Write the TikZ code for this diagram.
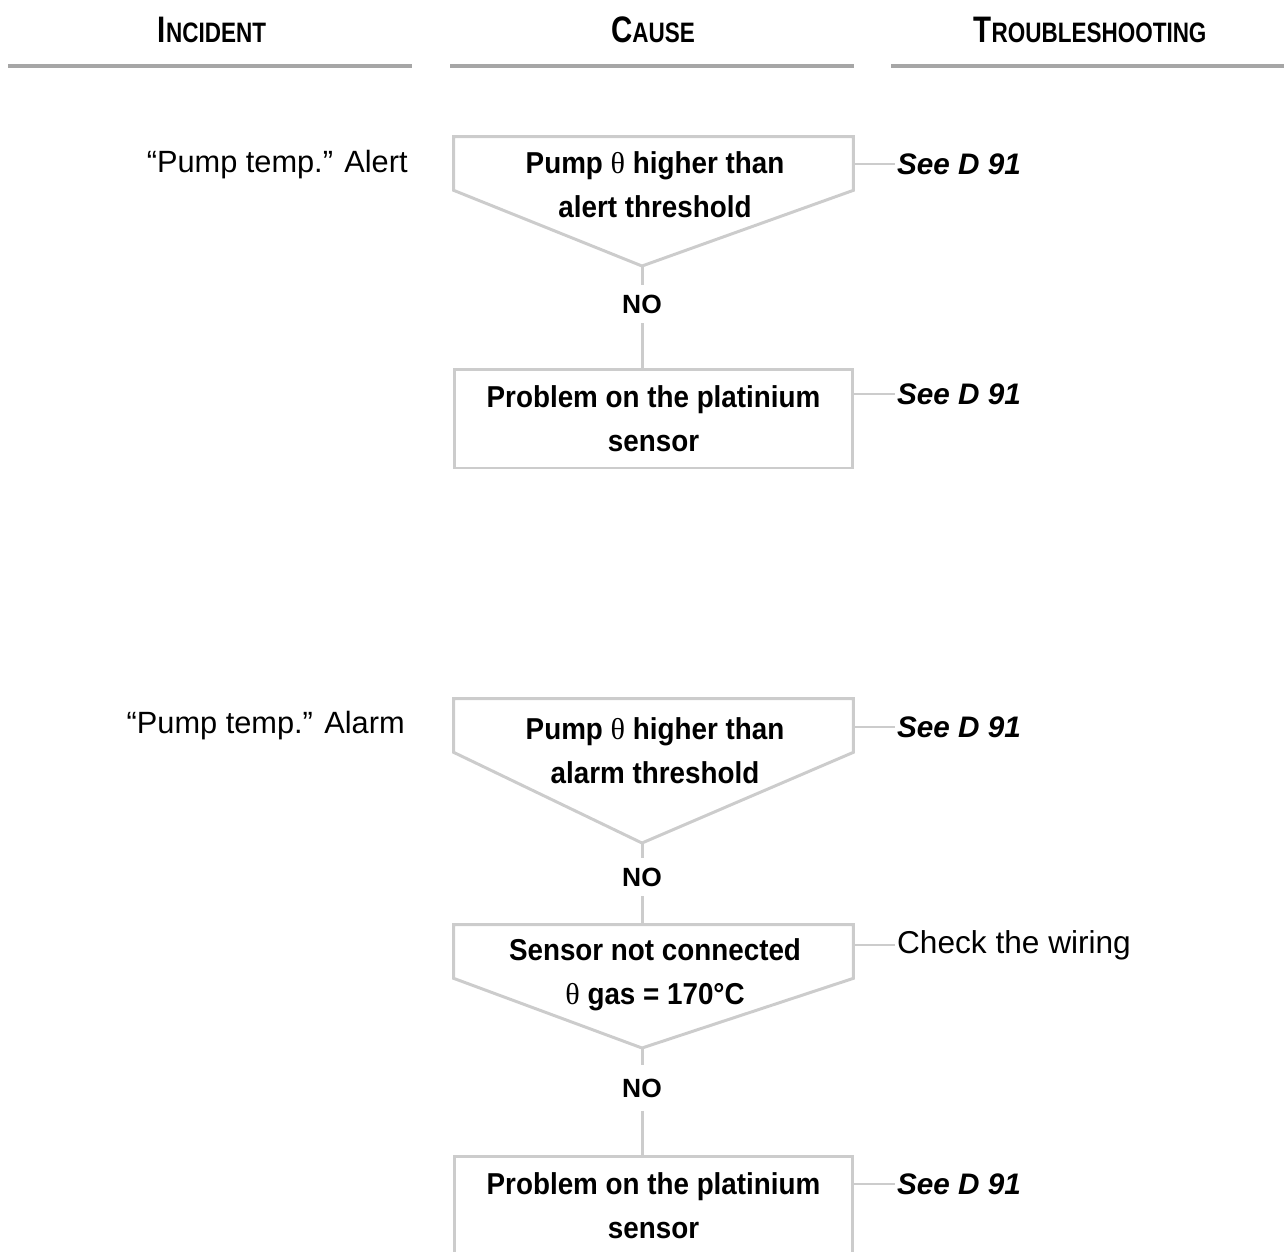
\documentclass[tikz,border=0pt]{standalone}
\usepackage{fontspec}
\setmainfont{Liberation Sans}
\newfontfamily\boxfont[FakeStretch=0.92]{Liberation Sans}
\newfontfamily\headfont[FakeStretch=0.8]{Liberation Sans}
\newfontfamily\thetafont{Liberation Serif}
\usetikzlibrary{positioning}
\definecolor{framegray}{HTML}{CCCCCC}
\definecolor{rulegray}{HTML}{A6A6A6}
\newcommand{\thx}{{\thetafont\mdseries θ}}
\newcommand{\hcap}[2]{{\fontsize{21}{21}\selectfont #1}{\fontsize{16}{16}\selectfont #2}}

\begin{document}
\begin{tikzpicture}[x=0.02cm, y=-0.02cm,
  head/.style={font=\headfont\bfseries, anchor=base, inner sep=0},
  hrule/.style={draw=rulegray, line width=2.2pt},
  cline/.style={draw=framegray, line width=1.7pt},
  link/.style={draw=framegray, line width=1.1pt},
  incid/.style={font=\fontsize{17.5}{21}\selectfont, anchor=base east, inner sep=0},
  asktop/.style={minimum width=7.98cm, minimum height=1.06cm, inner sep=0},
  cause/.style={font=\boxfont\bfseries\fontsize{17.2}{25}\selectfont, align=center, inner sep=0},
  asktext/.style={cause, anchor=north},
  pbox/.style={cline, cause, minimum width=7.98cm, minimum height=1.98cm},
  nolab/.style={font=\bfseries\fontsize{15}{15}\selectfont, minimum height=0.76cm, inner sep=0},
  seetxt/.style={font=\bfseries\itshape\fontsize{16.9}{20}\selectfont, anchor=base west, inner sep=1pt},
  fixtxt/.style={font=\fontsize{18}{21}\selectfont, anchor=base west, inner sep=1pt}]
  \useasboundingbox (0,0) rectangle (1284,1251);
  \clip (0,0) rectangle (1284,1251);

  % column heads
  \node[head] (hinc) at (212,42) {\hcap{I}{NCIDENT}};
  \node[head] (hcau) at (653,42) {\hcap{C}{AUSE}};
  \node[head] (htro) at (1090,42) {\hcap{T}{ROUBLESHOOTING}};
  \draw[hrule] (8,66) -- (412,66);
  \draw[hrule] (450,66) -- (854,66);
  \draw[hrule] (891,66) -- (1284,66);

  % alert
  \node[incid] (inc1) at (408,172) {“Pump temp.” Alert};
  \node[asktop] (q1) at (653.5,163.5) {};
  \coordinate (q1tip) at (642,266);
  \draw[cline] (q1.south west) |- (q1.north east) -- (q1.south east) -- (q1tip) -- cycle;
  \node[asktext] (q1txt) at (655,151) {Pump \thx{} higher than\\alert threshold};
  \node[nolab] (no1) at (642,304) {NO};
  \node[pbox] (p1) at (653.5,418.5) {Problem on the platinium\\sensor};
  \draw[cline] (q1tip) -- (no1);
  \draw[cline] (no1) -- (no1 |- p1.north);
  \node[seetxt] (s1) at (895,174) {See D 91};
  \node[seetxt] (s2) at (895,404) {See D 91};
  \draw[link] (s1.west -| q1.east) -- (s1.west);
  \draw[link] (s2.west -| p1.east) -- (s2.west);

  % alarm
  \node[incid] (inc2) at (405,733) {“Pump temp.” Alarm};
  \node[asktop] (q3) at (653.5,725.5) {};
  \coordinate (q3tip) at (642,843);
  \draw[cline] (q3.south west) |- (q3.north east) -- (q3.south east) -- (q3tip) -- cycle;
  \node[asktext] (q3txt) at (655,717) {Pump \thx{} higher than\\alarm threshold};
  \node[nolab] (no2) at (642,877) {NO};
  \node[asktop] (q4) at (653.5,951.5) {};
  \coordinate (q4tip) at (642,1048);
  \draw[cline] (q4.south west) |- (q4.north east) -- (q4.south east) -- (q4tip) -- cycle;
  \node[asktext] (q4txt) at (655,938) {Sensor not connected\\\thx{} gas = 170°C};
  \node[nolab, minimum height=0.9cm] (no3) at (642,1088) {NO};
  \node[pbox] (p2) at (653.5,1205.5) {Problem on the platinium\\sensor};
  \draw[cline] (q3tip) -- (no2);
  \draw[cline] (no2) -- (no2 |- q4.north);
  \draw[cline] (q4tip) -- (no3);
  \draw[cline] (no3) -- (no3 |- p2.north);
  \node[seetxt] (s3) at (895,737) {See D 91};
  \node[fixtxt] (ck) at (895,953) {Check the wiring};
  \node[seetxt] (s4) at (895,1194) {See D 91};
  \draw[link] (s3.west -| q3.east) -- (s3.west);
  \draw[link] (ck.west -| q4.east) -- (ck.west);
  \draw[link] (s4.west -| p2.east) -- (s4.west);
\end{tikzpicture}
\end{document}
